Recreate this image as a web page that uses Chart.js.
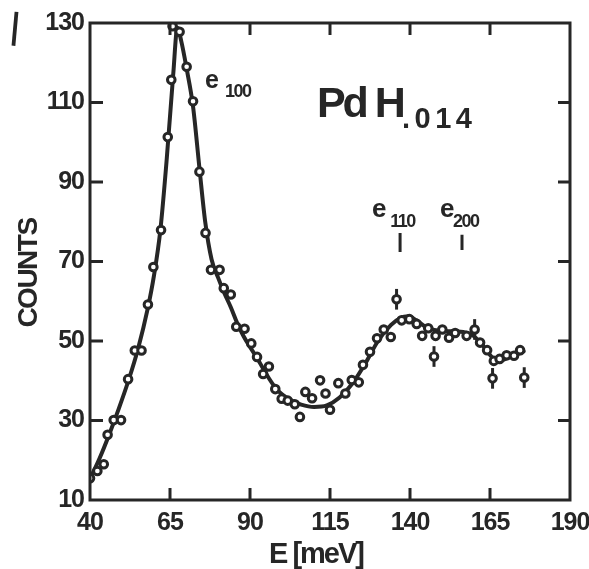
<!DOCTYPE html>
<html>
<head>
<meta charset="utf-8">
<script src="https://cdn.jsdelivr.net/npm/chart.js@4"></script>
<style>
  html, body { margin: 0; padding: 0; background: #fff; }
  #wrap { width: 589px; height: 569px; }
</style>
</head>
<body>
<div id="wrap"><canvas id="c" width="589" height="569"></canvas></div>
<script>
// Measured spectrum (energy in meV, counts)
const energies = [40.0, 42.3, 44.3, 45.5, 47.4, 49.7, 51.9, 54.0, 56.1, 58.1, 59.8, 62.2, 64.3, 65.4, 65.8,
  68.0, 70.2, 72.2, 74.2, 76.1, 77.8, 80.5, 81.8, 84.0, 85.7, 88.3, 90.4, 92.2, 94.1, 95.9, 97.9, 99.9,
  101.8, 104.0, 105.6, 107.3, 109.4, 111.9, 113.6, 115.0, 117.6, 119.8, 121.8, 124.0, 125.3, 127.5,
  129.7, 131.8, 134.0, 137.4, 139.8, 142.1, 143.8, 145.7, 148.0, 150.1, 152.2, 154.1, 157.7, 161.9,
  164.1, 166.2, 168.0, 170.2, 172.5, 174.4];
const counts = [15.5, 17.3, 19.0, 26.4, 30.1, 30.1, 40.4, 47.6, 47.6, 59.2, 68.6, 77.9, 101.3, 115.7, 129.2,
  127.8, 119.0, 110.3, 92.6, 77.2, 67.9, 67.9, 63.3, 61.7, 53.6, 53.1, 49.4, 46.0, 41.7, 43.6, 37.9, 35.5,
  35.0, 34.1, 30.9, 37.2, 35.6, 40.1, 36.8, 32.7, 39.4, 36.8, 40.2, 39.6, 44.0, 47.3,
  50.7, 52.9, 51.0, 55.2, 55.5, 54.3, 51.3, 53.2, 51.3, 52.9, 50.8, 52.0, 51.3, 49.6,
  47.7, 45.0, 45.5, 46.4, 46.3, 47.7];

// Points shown with their statistical error bars
const errEnergies = [135.8, 147.5, 160.2, 165.8, 175.7];
const errCounts = [60.5, 46.1, 52.9, 40.6, 40.8];
const errSize = [2.6, 2.6, 2.6, 2.6, 2.6];

// Fitted line
const fitEnergies = [40, 43, 46, 49, 52, 55, 58, 60, 62, 64, 66, 67.3, 68.5, 70.2, 72.2, 74.2, 76, 78, 80,
  82, 84, 86, 88, 90, 92, 94, 96, 98, 100, 103, 106, 110, 114, 118, 122, 126, 130, 134, 137, 139.5,
  142, 145, 150, 155, 158, 160, 163, 166, 168, 171, 174, 175.5];
const fitCounts = [15.3, 20.5, 26.5, 33, 40, 48, 58, 66.5, 78, 96, 117, 128.8, 125.5, 118.5, 109, 93.5, 80, 70.5, 66,
  62, 58.5, 54.5, 51.2, 48.5, 46, 43.2, 40.5, 38.2, 36.6, 35, 34, 33.4, 33.8, 35.8, 39.3, 44.3, 50, 54, 55.8, 56.2,
  55.2, 53.5, 52.5, 52.4, 52, 51.2, 48.6, 45.6, 45, 45.9, 46.8, 47.4];

// Axis ticks
const xTicks = [40, 65, 90, 115, 140, 165, 190];
const yTicks = [10, 30, 50, 70, 90, 110, 130];

const INK = '#262626';
const FONT = '"Liberation Sans", Arial, sans-serif';

const toXY = (xs, ys) => xs.map((x, i) => ({ x: x, y: ys[i] }));

// Tight lettering for all canvas text, including the axis tick labels
const lettering = {
  id: 'lettering',
  beforeDraw(chart) { chart.ctx.letterSpacing = '-1px'; }
};

// Frame, inward ticks, error bars and labels
const decor = {
  id: 'decor',
  beforeDatasetsDraw(chart) {
    const ctx = chart.ctx, xs = chart.scales.x, ys = chart.scales.y;
    ctx.save();
    ctx.strokeStyle = INK;
    ctx.lineWidth = 3;
    ctx.lineCap = 'butt';
    errEnergies.forEach((e, i) => {
      const px = xs.getPixelForValue(e);
      ctx.beginPath();
      ctx.moveTo(px, ys.getPixelForValue(errCounts[i] + errSize[i]));
      ctx.lineTo(px, ys.getPixelForValue(errCounts[i] - errSize[i]));
      ctx.stroke();
    });
    ctx.restore();
  },
  afterDatasetsDraw(chart) {
    const ctx = chart.ctx, a = chart.chartArea, xs = chart.scales.x, ys = chart.scales.y;
    ctx.save();
    ctx.strokeStyle = INK;
    ctx.fillStyle = INK;
    ctx.lineWidth = 3;
    ctx.strokeRect(a.left, a.top, a.right - a.left, a.bottom - a.top);

    const tl = 12;
    ctx.beginPath();
    xTicks.slice(1, -1).forEach(v => {
      const px = xs.getPixelForValue(v);
      ctx.moveTo(px, a.bottom); ctx.lineTo(px, a.bottom - tl);
      ctx.moveTo(px, a.top); ctx.lineTo(px, a.top + tl);
    });
    yTicks.slice(1, -1).forEach(v => {
      const py = ys.getPixelForValue(v);
      ctx.moveTo(a.left, py); ctx.lineTo(a.left + tl + 1, py);
      ctx.moveTo(a.right, py); ctx.lineTo(a.right - tl, py);
    });
    ctx.stroke();

    // peak markers for e110 and e200
    ctx.beginPath();
    [[136.9, 77.2, 72.4], [156.25, 76.7, 72.9]].forEach(([e, y0, y1]) => {
      const px = xs.getPixelForValue(e);
      ctx.moveTo(px, ys.getPixelForValue(y0));
      ctx.lineTo(px, ys.getPixelForValue(y1));
    });
    ctx.stroke();

    const txt = (s, e, c, font, spacing) => {
      ctx.font = font;
      ctx.letterSpacing = spacing + 'px';
      ctx.textAlign = 'left';
      ctx.textBaseline = 'alphabetic';
      ctx.fillText(s, xs.getPixelForValue(e), ys.getPixelForValue(c));
    };
    txt('e', 75.9, 113.6, 'bold 25px ' + FONT, 0);
    txt('100', 82.2, 111.4, 'bold 18px ' + FONT, -1.5);
    txt('Pd H', 110.9, 106.4, 'bold 43px ' + FONT, -3);
    txt('.014', 137.5, 103.6, 'bold 29px ' + FONT, 4.5);
    txt('e', 128.1, 81.2, 'bold 26px ' + FONT, 0);
    txt('110', 133.8, 78.7, 'bold 18px ' + FONT, -1.5);
    txt('e', 149.4, 81.2, 'bold 26px ' + FONT, 0);
    txt('200', 153.4, 78.7, 'bold 18px ' + FONT, -1.5);

    // axis titles
    ctx.textAlign = 'center';
    ctx.textBaseline = 'alphabetic';
    ctx.font = 'bold 29px ' + FONT;
    ctx.letterSpacing = '-2px';
    ctx.fillText('E [meV]', 316, 563);
    ctx.save();
    ctx.translate(37, 273);
    ctx.rotate(-Math.PI / 2);
    ctx.font = 'bold 28px ' + FONT;
    ctx.letterSpacing = '-1.5px';
    ctx.fillText('COUNTS', 0, 0);
    ctx.restore();

    // figure mark
    ctx.save();
    ctx.translate(15, 29);
    ctx.rotate(0.09);
    ctx.letterSpacing = '0px';
    ctx.font = 'bold 34px "DejaVu Sans", sans-serif';
    ctx.textAlign = 'center';
    ctx.textBaseline = 'middle';
    ctx.fillText('|', 0, 0);
    ctx.restore();
    ctx.restore();
  }
};

const tickFont = { family: FONT, size: 25, weight: 'bold' };

new Chart(document.getElementById('c'), {
  type: 'scatter',
  data: {
    datasets: [
      {
        label: 'counts',
        data: toXY(energies, counts),
        order: 1,
        pointStyle: 'circle',
        pointRadius: 3.8,
        pointBorderWidth: 3,
        pointBackgroundColor: '#fff',
        pointBorderColor: INK,
        showLine: false
      },
      {
        label: 'with error',
        data: toXY(errEnergies, errCounts),
        order: 1,
        pointStyle: 'circle',
        pointRadius: 3.8,
        pointBorderWidth: 3,
        pointBackgroundColor: '#fff',
        pointBorderColor: INK,
        showLine: false
      },
      {
        label: 'fit',
        data: toXY(fitEnergies, fitCounts),
        order: 2,
        showLine: true,
        pointRadius: 0,
        borderColor: INK,
        borderWidth: 4,
        cubicInterpolationMode: 'monotone',
        borderJoinStyle: 'round',
        borderCapStyle: 'round'
      }
    ]
  },
  options: {
    responsive: false,
    animation: false,
    events: [],
    layout: { padding: { left: 0, top: 23, right: 19, bottom: 0 } },
    plugins: { legend: { display: false }, tooltip: { enabled: false } },
    scales: {
      x: {
        type: 'linear',
        min: 40, max: 190,
        afterFit(s) { s.height = 69; s.paddingLeft = 0; s.paddingRight = 0; },
        afterBuildTicks(s) { s.ticks = xTicks.map(v => ({ value: v })); },
        grid: { display: false, drawTicks: false },
        border: { display: false },
        ticks: { color: INK, padding: 8, maxRotation: 0, font: tickFont }
      },
      y: {
        type: 'linear',
        min: 10, max: 130,
        afterFit(s) { s.width = 90; s.paddingTop = 0; s.paddingBottom = 0; },
        afterBuildTicks(s) { s.ticks = yTicks.map(v => ({ value: v })); },
        grid: { display: false, drawTicks: false },
        border: { display: false },
        ticks: { color: INK, padding: 6, font: tickFont }
      }
    }
  },
  plugins: [lettering, decor]
});
</script>
</body>
</html>
